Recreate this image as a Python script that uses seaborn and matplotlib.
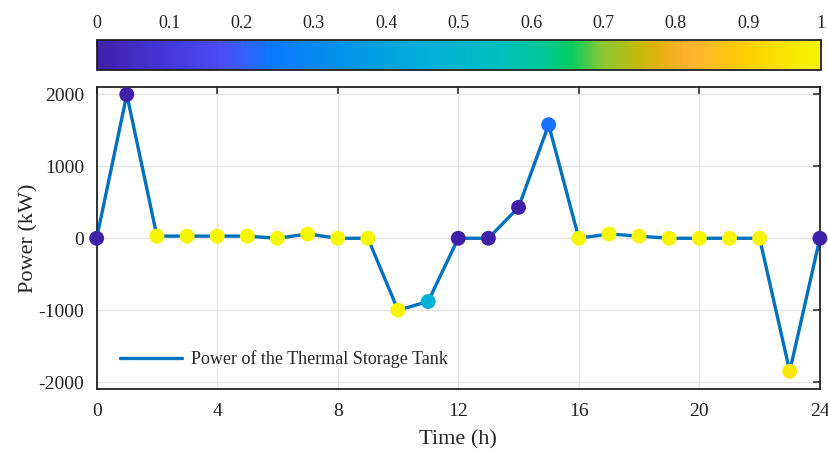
import numpy as np
import pandas as pd
import matplotlib
matplotlib.use("Agg")
import matplotlib.pyplot as plt
import seaborn as sns
from matplotlib.colors import LinearSegmentedColormap, Normalize
from matplotlib.cm import ScalarMappable
from matplotlib.ticker import FuncFormatter

# data
hours = list(range(25))
power = [0, 2000, 30, 30, 30, 30, 0, 60, 0, 0, -1000, -880, 0, 0, 430, 1580,
         0, 60, 30, 0, 0, 0, 0, -1850, 0]
shade = [0.0, 0.0, 1.0, 1.0, 1.0, 1.0, 1.0, 1.0, 1.0, 1.0, 1.0, 0.46, 0.0, 0.0, 0.0, 0.23,
         1.0, 1.0, 1.0, 1.0, 1.0, 1.0, 1.0, 0.96, 0.0]
cbar_ticks = [0, 0.1, 0.2, 0.3, 0.4, 0.5, 0.6, 0.7, 0.8, 0.9, 1]
x_ticks = [0, 4, 8, 12, 16, 20, 24]
y_ticks = [-2000, -1000, 0, 1000, 2000]

cmap = LinearSegmentedColormap.from_list("custom", [
    (0.00, "#4020A8"), (0.10, "#4338DC"), (0.17, "#4A4CF6"), (0.21, "#2E64FF"),
    (0.24, "#0A78FF"), (0.35, "#0096E6"), (0.45, "#00B0D8"), (0.55, "#00BEC0"),
    (0.62, "#00C894"), (0.655, "#00CC62"), (0.70, "#8CC834"), (0.75, "#C4BA08"),
    (0.78, "#E6B010"), (0.82, "#FFB232"), (0.90, "#FFD000"), (1.00, "#F6F600"),
])

df = pd.DataFrame({"Time": hours, "Power": power, "shade": shade})

sns.set_style("white")
plt.rcParams["font.family"] = ["Liberation Serif", "DejaVu Serif"]

fig = plt.figure(figsize=(8.29, 4.5), dpi=100)
ax = fig.add_axes([0.1166, 0.135, 0.8724, 0.671])

sns.lineplot(data=df, x="Time", y="Power", ax=ax, color="#0072BD", linewidth=2.4,
             label="Power of the Thermal Storage Tank", zorder=2)
sns.scatterplot(data=df, x="Time", y="Power", hue="shade", palette=cmap,
                hue_norm=(0, 1), s=115, edgecolor="none", legend=False,
                ax=ax, zorder=3, clip_on=False)

ax.set_xlim(0, 24)
ax.set_ylim(-2100, 2100)
ax.set_xticks(x_ticks)
ax.set_yticks(y_ticks)
ax.yaxis.set_major_formatter(FuncFormatter(lambda v, p: f"{v:g}"))
ax.grid(True, color="#e3e3e3", linewidth=0.9)
ax.set_axisbelow(True)
ax.tick_params(direction="in", length=5, width=1.1, top=True, right=True,
               labelsize=14, colors="#222222")
ax.tick_params(axis="y", pad=9)
ax.tick_params(axis="x", pad=10)
for sp in ax.spines.values():
    sp.set_color("#222222")
    sp.set_linewidth(1.3)
ax.set_xlabel("Time (h)", fontsize=16, labelpad=7)
ax.set_ylabel("Power (kW)", fontsize=16, labelpad=0)

leg = ax.legend(loc="lower left", frameon=False, fontsize=13,
                bbox_to_anchor=(0.01, 0.015), handlelength=3.4,
                handletextpad=0.55)

cax = fig.add_axes([0.1166, 0.8444, 0.8734, 0.0667])
sm = ScalarMappable(norm=Normalize(0, 1), cmap=cmap)
cb = fig.colorbar(sm, cax=cax, orientation="horizontal", ticks=cbar_ticks)
cb.ax.xaxis.set_ticks_position("top")
cb.ax.xaxis.set_label_position("top")
cb.ax.set_xticklabels([f"{t:g}" for t in cbar_ticks])
cb.ax.tick_params(direction="in", length=5, width=1.1, labelsize=13,
                  colors="#222222", pad=6)
cb.outline.set_linewidth(1.3)
cb.outline.set_edgecolor("#222222")

fig.savefig("out.png", dpi=100)
